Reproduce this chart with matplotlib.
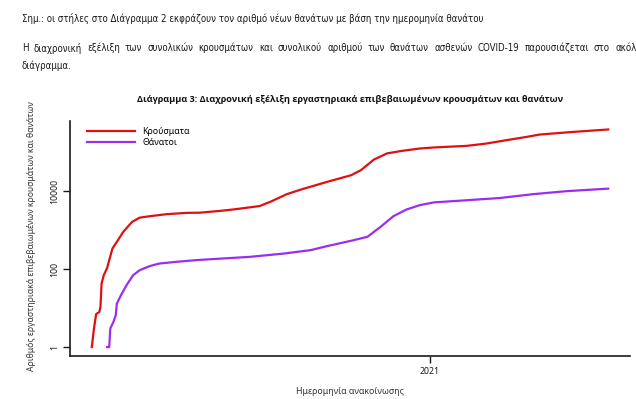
import numpy as np
import pandas as pd
import matplotlib
matplotlib.use("Agg")
import matplotlib.pyplot as plt
from matplotlib import font_manager as fm

plt.rcParams['font.family'] = ['Noto Sans', 'DejaVu Sans']

# cumulative cases (log scale)
case_dates = ["2020-02-26", "2020-02-28", "2020-03-01", "2020-03-04", "2020-03-05",
              "2020-03-06", "2020-03-08", "2020-03-11", "2020-03-13", "2020-03-16",
              "2020-03-20", "2020-03-26", "2020-04-03", "2020-04-10", "2020-04-20",
              "2020-05-05", "2020-05-23", "2020-06-04", "2020-06-22", "2020-07-05",
              "2020-07-29", "2020-08-08", "2020-08-23", "2020-09-05", "2020-09-29",
              "2020-10-21", "2020-10-30", "2020-11-11", "2020-11-23", "2020-12-05",
              "2020-12-11", "2020-12-23", "2021-01-05", "2021-02-04", "2021-02-22",
              "2021-03-13", "2021-03-31", "2021-04-12", "2021-05-13", "2021-06-14"]
cases = [1, 3, 7, 8, 11,
         43, 70, 105, 170, 340,
         500, 910, 1630, 2090, 2290,
         2570, 2770, 2800, 3100, 3390,
         4140, 5350, 8360, 11000, 17300,
         25600, 34500, 64700, 93000, 106000,
         112000, 124000, 132000, 145000, 166000,
         204000, 246000, 283000, 331000, 382000]

# cumulative deaths
death_dates = ["2020-03-11", "2020-03-13", "2020-03-14", "2020-03-17", "2020-03-19",
               "2020-03-20", "2020-03-24", "2020-03-29", "2020-04-04", "2020-04-10",
               "2020-04-19", "2020-04-28", "2020-05-14", "2020-06-01", "2020-06-22",
               "2020-07-20", "2020-08-20", "2020-09-14", "2020-09-29", "2020-10-21",
               "2020-11-05", "2020-11-17", "2020-11-29", "2020-12-11", "2020-12-23",
               "2021-01-05", "2021-02-04", "2021-03-07", "2021-04-06", "2021-05-07",
               "2021-06-14"]
deaths = [1, 1, 3, 4.5, 6.6,
          13, 22, 39, 70, 94,
          119, 139, 154, 170, 185,
          206, 250, 307, 389, 533,
          673, 1210, 2290, 3390, 4370,
          5140, 5840, 6680, 8360, 10000,
          11600]

note_text = "Σημ.: οι στήλες στο Διάγραμμα 2 εκφράζουν τον αριθμό νέων θανάτων με βάση την ημερομηνία θανάτου"
para_line1 = "Η διαχρονική εξέλιξη των συνολικών κρουσμάτων και συνολικού αριθμού των θανάτων ασθενών COVID-19 παρουσιάζεται στο ακόλουθο"
para_line2 = "διάγραμμα."

case_dates = pd.to_datetime(case_dates)
death_dates = pd.to_datetime(death_dates)

fig = plt.figure(figsize=(6.36, 3.99), dpi=100)
W, H = 636, 399
renderer = fig.canvas.get_renderer()

# the page text is set in a narrow font; pick one that is installed
names = {f.name for f in fm.fontManager.ttflist}
page_font = dict(family=['Noto Sans', 'DejaVu Sans'])
if 'Liberation Sans Narrow' in names:
    page_font = dict(family=['Liberation Sans Narrow', 'DejaVu Sans'])
elif any(f.name == 'DejaVu Sans' and f.stretch == 'condensed' for f in fm.fontManager.ttflist):
    page_font = dict(family=['DejaVu Sans'], stretch='condensed')

def text_width(s, size):
    t = fig.text(0, 0, s, fontsize=size, **page_font)
    w = t.get_window_extent(renderer).width
    t.remove()
    return w

# first note line runs from x=22 to about x=486
page_size = 7 * 464 / text_width(note_text, 7)
page_size = min(page_size, 9)
txt_kw = dict(fontsize=page_size, va='center', ha='left', color='#1a1a1a', **page_font)

fig.text(22/W, 1-18/H, note_text, **txt_kw)
fig.text(22/W, 1-66/H, para_line2, **txt_kw)

# justified line: last word starts near x=615 and runs off the page
words = para_line1.split()
widths = [text_width(w, page_size) for w in words]
gap = (615 - 22 - sum(widths[:-1])) / (len(words) - 1)
x = 22
for w, wd in zip(words, widths):
    fig.text(x/W, 1-48/H, w, **txt_kw)
    x += wd + gap

ax = fig.add_axes([70/W, 1-356/H, 560/W, 235/H])
ax.plot(case_dates, cases, color='#E01010', lw=1.6, label='Κρούσματα')
ax.plot(death_dates, deaths, color='#9A2EF0', lw=1.6, label='Θάνατοι')
ax.set_yscale('log')
ax.set_ylim(0.59, 630000)
ax.set_xlim(pd.Timestamp("2020-02-06"), pd.Timestamp("2021-07-04"))

ax.set_yticks([1, 100, 10000])
ax.set_yticklabels(["1", "100", "10000"], rotation=90, va='center')
ax.minorticks_off()
ax.set_xticks([pd.Timestamp("2021-01-01")])
ax.set_xticklabels(["2021"])
ax.tick_params(axis='both', labelsize=6.3, length=5, width=1, pad=3, colors='#1a1a1a')

for s in ['top', 'right']:
    ax.spines[s].set_visible(False)
for s in ['left', 'bottom']:
    ax.spines[s].set_linewidth(1.2)
    ax.spines[s].set_color('#1a1a1a')

ax.legend(loc='upper left', bbox_to_anchor=(0.02, 1.0), frameon=False, fontsize=6.3,
          handlelength=5.5, handletextpad=0.8, labelspacing=0.2, borderaxespad=0.3)

fig.text(350/W, 1-100/H,
         "Διάγραμμα 3: Διαχρονική εξέλιξη εργαστηριακά επιβεβαιωμένων κρουσμάτων και θανάτων",
         fontsize=6.6, fontweight='bold', family=['Open Sans', 'DejaVu Sans'],
         ha='center', va='center', color='#111111')
fig.text(32/W, 1-236/H,
         "Αριθμός εργαστηριακά επιβεβαιωμένων κρουσμάτων και θανάτων",
         fontsize=6.2, rotation=90, ha='center', va='center', color='#333333')
fig.text(350/W, 1-392/H, "Ημερομηνία ανακοίνωσης",
         fontsize=6.3, ha='center', va='center', color='#333333')

fig.savefig("out.png", dpi=100)
